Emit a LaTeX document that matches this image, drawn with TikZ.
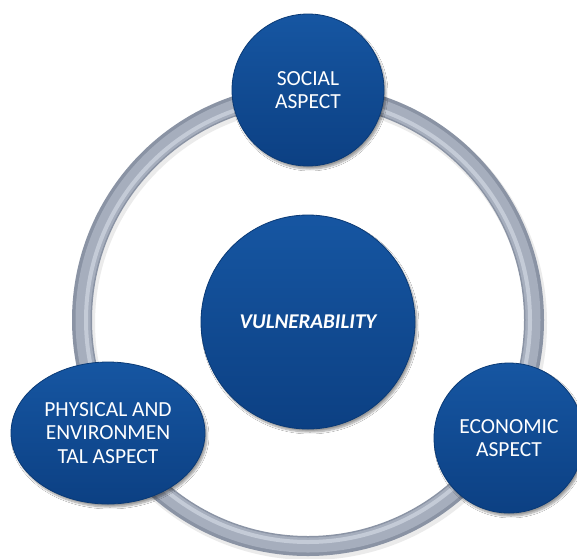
\documentclass[tikz,border=0pt]{standalone}
\usepackage{fontspec}
\setmainfont{Carlito}
\usetikzlibrary{shadows.blur,shapes.geometric}
\definecolor{bluetop}{HTML}{1656A2}
\definecolor{bluebot}{HTML}{0C4083}
\definecolor{blueedge}{HTML}{0A3A76}
\definecolor{ringdark}{HTML}{8A93A4}
\definecolor{ringmid}{HTML}{A6AEBD}
\definecolor{ringlight}{HTML}{C4CBD7}
\begin{document}
\begin{tikzpicture}[x=1pt,y=-1pt,
  blob/.style={inner sep=0pt, top color=bluetop, bottom color=bluebot,
    draw=blueedge, line width=0.8pt, text=white, align=center,
    font=\fontsize{21.5}{23.5}\selectfont,
    blur shadow={shadow xshift=2pt, shadow yshift=-3pt, shadow blur steps=8, shadow opacity=40}},
  roundblob/.style={blob, circle},
  ovalblob/.style={blob, ellipse},
  ringouter/.style={draw=ringdark, line width=20pt},
  ringinner/.style={draw=ringmid, line width=15pt},
  ringshine/.style={draw=ringlight, line width=4pt},
]
\clip (0,0) rectangle (577,558);
\fill[white] (0,0) rectangle (577,558);
\coordinate (ctr) at (308,320);
% ring
\draw[draw=black!8, line width=22pt] ([shift={(2,3)}]ctr) circle[radius=226];
\draw[ringouter] (ctr) circle[radius=226];
\draw[ringinner] (ctr) circle[radius=225];
\draw[ringshine] (ctr) circle[radius=222];
% nodes
\node[roundblob, minimum size=152pt] (social) at (308,90) {SOCIAL\\ASPECT};
\node[roundblob, minimum size=214pt, font=\fontsize{21}{23.5}\selectfont\bfseries\itshape] (vul) at (308,322) {VULNERABILITY};
\node[ovalblob, minimum width=194pt, minimum height=142pt] (phys) at (108,433) {PHYSICAL AND\\ENVIRONMEN\\TAL ASPECT};
\node[roundblob, minimum size=150pt] (econ) at (509,438) {ECONOMIC\\ASPECT};
\end{tikzpicture}
\end{document}
